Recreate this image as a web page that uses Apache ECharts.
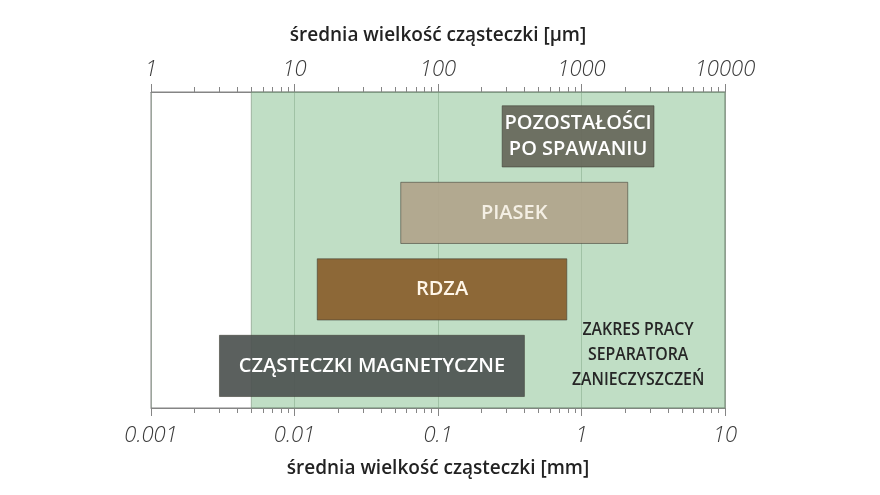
<!DOCTYPE html>
<html>
<head>
<meta charset="utf-8">
<script src="https://cdn.jsdelivr.net/npm/echarts@6/dist/echarts.min.js"></script>
<style>
  html, body { margin: 0; background: #fff; }
  #chart { width: 880px; height: 495px; }
</style>
</head>
<body>
<div id="chart"></div>
<script>
// particle size ranges in mm, rows from top to bottom
var categories = ['POZOSTAŁOŚCI\nPO SPAWANIU', 'PIASEK', 'RDZA', 'CZĄSTECZKI MAGNETYCZNE']
var rangeStart = [0.28, 0.055, 0.0144, 0.003]
var rangeEnd = [3.2, 2.1, 0.79, 0.4]
var barColors = ['#67675a', '#b1a58c', '#8a5f2c', '#4f5452']
var labelColors = ['#ffffff', '#f4efe4', '#fff6e8', '#ffffff']

// working range of the separator (mm)
var workRange = [0.005, 10]
var workLabel = 'ZAKRES PRACY\nSEPARATORA\nZANIECZYSZCZEŃ'
var workLabelAt = [2.48, 2.86]

var mmTicks = [0.001, 0.01, 0.1, 1, 10]
var umTicks = [1, 10, 100, 1000, 10000]
var UM_PER_MM = 1000

function minorTicks(decades) {
  var out = []
  for (var i = 0; i < decades.length - 1; i++) {
    for (var m = 2; m <= 9; m++) out.push(+(decades[i] * m).toPrecision(3))
  }
  return out
}
var mmMinor = minorTicks(mmTicks)
var umMinor = minorTicks(umTicks)

var chart = echarts.init(document.getElementById('chart'))

var tickLabel = {
  fontFamily: 'Open Sans',
  fontStyle: 'italic',
  fontWeight: 300,
  fontSize: 22,
  color: '#3a3a3a'
}
var axisName = {
  fontFamily: 'Open Sans',
  fontWeight: 600,
  fontSize: 19,
  color: '#222'
}
var tickColor = '#858585'
var lineStyle = { color: tickColor, width: 1 }

function majorAxis(pos, min, max, ticks, name) {
  var bottom = pos === 'bottom'
  return {
    type: 'log',
    logBase: 10,
    position: pos,
    min: min,
    max: max,
    name: name,
    nameLocation: 'middle',
    nameGap: bottom ? 51 : 47,
    nameTextStyle: axisName,
    axisLine: { show: true, onZero: false, lineStyle: lineStyle },
    axisTick: { show: true, length: 8, lineStyle: lineStyle, customValues: ticks },
    axisLabel: Object.assign({
      margin: bottom ? 17 : 11,
      customValues: ticks,
      formatter: function (v) { return String(+(+v).toPrecision(3)) }
    }, tickLabel),
    splitLine: { show: bottom, lineStyle: { color: 'rgba(110,130,110,0.45)', width: 1 } },
    minorTick: { show: false },
    minorSplitLine: { show: false }
  }
}

var barData = categories.map(function (c, i) {
  return [rangeStart[i], rangeEnd[i], i, c]
})

// short outward tick lines at 2..9 of each decade, placed with api.coord
function tickLines(api, cs) {
  var out = []
  var yb = cs.y + cs.height
  var yt = cs.y
  mmMinor.forEach(function (v) {
    var x = Math.round(api.coord([v, 0])[0]) + 0.5
    out.push({ type: 'line', shape: { x1: x, y1: yb, x2: x, y2: yb + 5 }, style: { stroke: tickColor, lineWidth: 1 } })
  })
  umMinor.forEach(function (v) {
    var x = Math.round(api.coord([v / UM_PER_MM, 0])[0]) + 0.5
    out.push({ type: 'line', shape: { x1: x, y1: yt, x2: x, y2: yt - 5 }, style: { stroke: tickColor, lineWidth: 1 } })
  })
  return out
}

chart.setOption({
  animation: false,
  grid: {
    left: 151, right: 155, top: 92, bottom: 87,
    show: true, borderColor: tickColor, borderWidth: 1, backgroundColor: 'transparent'
  },
  xAxis: [
    majorAxis('bottom', 0.001, 10, mmTicks, 'średnia wielkość cząsteczki [mm]'),
    majorAxis('top', 1, 10000, umTicks, 'średnia wielkość cząsteczki [μm]')
  ],
  yAxis: { type: 'value', inverse: true, min: -0.58, max: 3.55, show: false },
  series: [
    {
      type: 'custom',
      z: 1,
      xAxisIndex: 0,
      clip: false,
      data: [[workRange[0], workRange[1]]],
      renderItem: function (params, api) {
        var cs = params.coordSys
        var x0 = api.coord([api.value(0), 0])[0]
        var x1 = api.coord([api.value(1), 0])[0]
        var tp = api.coord(workLabelAt)
        return {
          type: 'group',
          children: [
            {
              type: 'rect',
              shape: { x: x0, y: cs.y, width: x1 - x0, height: cs.height },
              style: { fill: 'rgba(130,190,140,0.5)', stroke: 'rgba(120,140,120,0.6)', lineWidth: 1 }
            },
            {
              type: 'text',
              x: tp[0], y: tp[1],
              scaleX: 0.88,
              style: {
                text: workLabel,
                align: 'center', verticalAlign: 'middle',
                fontFamily: 'Open Sans', fontWeight: 600,
                fontSize: 18, lineHeight: 25, fill: '#262626'
              }
            }
          ].concat(tickLines(api, cs))
        }
      }
    },
    {
      type: 'custom',
      z: 2,
      xAxisIndex: 0,
      encode: { x: [0, 1], y: 2 },
      data: barData,
      renderItem: function (params, api) {
        var row = api.value(2)
        var a = api.coord([api.value(0), row - 0.4])
        var b = api.coord([api.value(1), row + 0.4])
        var i = params.dataIndex
        return {
          type: 'group',
          children: [
            {
              type: 'rect',
              shape: { x: a[0], y: a[1], width: b[0] - a[0], height: b[1] - a[1] },
              style: { fill: barColors[i], opacity: 0.93, stroke: 'rgba(60,60,50,0.6)', lineWidth: 1 }
            },
            {
              type: 'text',
              x: (a[0] + b[0]) / 2, y: (a[1] + b[1]) / 2,
              style: {
                text: api.value(3),
                align: 'center', verticalAlign: 'middle',
                fontFamily: 'Open Sans', fontWeight: 600,
                fontSize: 20, lineHeight: 26, fill: labelColors[i]
              }
            }
          ]
        }
      }
    }
  ]
})
</script>
</body>
</html>
